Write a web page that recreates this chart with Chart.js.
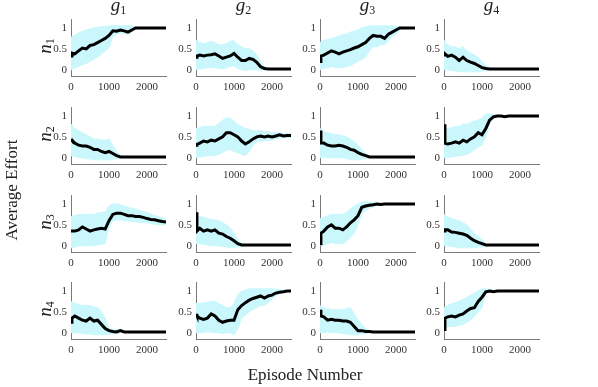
<!DOCTYPE html>
<html>
<head>
<meta charset="utf-8">
<script src="https://cdn.jsdelivr.net/npm/chart.js@4.4.0/dist/chart.umd.min.js"></script>
<style>
  body { margin:0; background:#fff; }
  #wrap { position:relative; width:598px; height:387px; overflow:hidden; font-family:"Liberation Serif", serif; color:#222; }
  #wrap canvas { position:absolute; }
  .lbl { position:absolute; text-align:center; white-space:nowrap; }
  .lbl sub { font-style:normal; font-size:12px; vertical-align:-3px; line-height:0; }
</style>
</head>
<body>
<div id="wrap"></div>
<script>
// episode positions of the sampled points
const episodes = [0, 25, 100, 200, 300, 400, 500, 600, 700, 800, 900, 1000, 1100, 1200, 1300, 1400, 1500, 1600, 1700, 1800, 1900, 2000, 2100, 2200, 2300, 2400, 2500];
const xTicks = [0, 1000, 2000];
const yTicks = [0, 0.5, 1];
const colTitles = ['1', '2', '3', '4'];
const rowTitles = ['1', '2', '3', '4'];

// row n1
const mean_n1_g1 = [0.33,0.40,0.38,0.45,0.52,0.50,0.58,0.60,0.65,0.70,0.75,0.82,0.93,0.92,0.95,0.93,0.90,0.95,1.0,1.0,1.0,1.0,1.0,1.0,1.0,1.0,1.0];
const up_n1_g1   = [0.78,0.80,0.82,0.88,0.92,0.95,0.98,1.0,1.02,1.03,1.04,1.05,1.06,1.06,1.05,1.06,1.05,1.05,1.02,1.01,1.01,1.01,1.01,1.01,1.01,1.01,1.01];
const lo_n1_g1   = [0.0,0.02,0.05,0.08,0.12,0.15,0.20,0.25,0.30,0.38,0.45,0.53,0.80,0.85,0.88,0.87,0.85,0.90,0.98,0.99,0.99,0.99,0.99,0.99,0.99,0.99,0.99];

const mean_n1_g2 = [0.30,0.33,0.35,0.33,0.35,0.36,0.38,0.33,0.27,0.30,0.33,0.39,0.30,0.22,0.22,0.27,0.25,0.18,0.07,0.03,0.02,0.02,0.02,0.02,0.02,0.02,0.02];
const up_n1_g2   = [0.70,0.68,0.65,0.62,0.65,0.68,0.65,0.60,0.60,0.62,0.68,0.70,0.60,0.55,0.50,0.50,0.45,0.35,0.20,0.07,0.03,0.03,0.03,0.03,0.03,0.03,0.03];
const lo_n1_g2   = [0.0,0.0,0.02,0.03,0.05,0.05,0.05,0.03,0.02,0.05,0.08,0.10,0.03,0.0,-0.02,0.0,0.0,0.0,-0.02,0.0,0.01,0.01,0.01,0.01,0.01,0.01,0.01];

const mean_n1_g3 = [0.20,0.33,0.35,0.40,0.45,0.42,0.38,0.42,0.45,0.48,0.52,0.55,0.60,0.65,0.75,0.82,0.80,0.80,0.75,0.85,0.90,0.95,1.0,1.0,1.0,1.0,1.0];
const up_n1_g3   = [0.65,0.68,0.70,0.72,0.75,0.78,0.80,0.85,0.85,0.90,0.92,0.95,1.0,1.03,1.05,1.05,1.05,1.05,1.05,1.05,1.05,1.04,1.02,1.01,1.01,1.01,1.01];
const lo_n1_g3   = [0.0,0.02,0.03,0.05,0.08,0.05,0.05,0.05,0.08,0.10,0.15,0.20,0.25,0.30,0.45,0.55,0.55,0.60,0.60,0.70,0.80,0.85,0.95,0.98,0.99,0.99,0.99];

const mean_n1_g4 = [0.35,0.38,0.32,0.35,0.30,0.22,0.30,0.22,0.18,0.15,0.10,0.05,0.03,0.02,0.02,0.02,0.02,0.02,0.02,0.02,0.02,0.02,0.02,0.02,0.02,0.02,0.02];
const up_n1_g4   = [0.70,0.65,0.60,0.55,0.55,0.50,0.55,0.45,0.40,0.35,0.30,0.20,0.10,0.05,0.03,0.03,0.03,0.03,0.03,0.03,0.03,0.03,0.03,0.03,0.03,0.03,0.03];
const lo_n1_g4   = [0.0,0.0,0.0,-0.02,-0.03,-0.05,-0.03,-0.05,-0.05,-0.05,-0.05,-0.03,-0.02,0.0,0.01,0.01,0.01,0.01,0.01,0.01,0.01,0.01,0.01,0.01,0.01,0.01,0.01];

// row n2
const mean_n2_g1 = [0.45,0.42,0.35,0.30,0.28,0.28,0.25,0.20,0.20,0.15,0.12,0.15,0.10,0.05,0.02,0.02,0.02,0.02,0.02,0.02,0.02,0.02,0.02,0.02,0.02,0.02,0.02];
const up_n2_g1   = [0.80,0.75,0.70,0.65,0.60,0.55,0.50,0.45,0.45,0.42,0.42,0.45,0.30,0.15,0.05,0.03,0.03,0.03,0.03,0.03,0.03,0.03,0.03,0.03,0.03,0.03,0.03];
const lo_n2_g1   = [0.05,0.05,0.03,0.0,0.0,-0.02,-0.03,-0.05,-0.05,-0.05,-0.05,-0.05,-0.03,-0.02,0.0,0.01,0.01,0.01,0.01,0.01,0.01,0.01,0.01,0.01,0.01,0.01,0.01];

const mean_n2_g2 = [0.30,0.32,0.35,0.40,0.38,0.42,0.40,0.45,0.50,0.60,0.60,0.55,0.50,0.40,0.33,0.38,0.45,0.50,0.52,0.50,0.52,0.50,0.52,0.55,0.52,0.53,0.53];
const up_n2_g2   = [0.70,0.70,0.72,0.75,0.75,0.75,0.75,0.82,0.90,0.95,0.95,0.88,0.80,0.75,0.70,0.68,0.65,0.65,0.65,0.62,0.62,0.60,0.60,0.60,0.58,0.58,0.58];
const lo_n2_g2   = [0.0,0.0,0.02,0.03,0.05,0.05,0.05,0.08,0.12,0.18,0.20,0.15,0.12,0.08,0.05,0.15,0.30,0.38,0.40,0.40,0.42,0.42,0.45,0.47,0.48,0.48,0.48];

const mean_n2_g3 = [0.65,0.35,0.35,0.30,0.28,0.28,0.30,0.28,0.25,0.20,0.18,0.12,0.08,0.05,0.02,0.02,0.02,0.02,0.02,0.02,0.02,0.02,0.02,0.02,0.02,0.02,0.02];
const up_n2_g3   = [0.70,0.65,0.62,0.60,0.58,0.55,0.55,0.52,0.50,0.45,0.38,0.30,0.20,0.10,0.03,0.03,0.03,0.03,0.03,0.03,0.03,0.03,0.03,0.03,0.03,0.03,0.03];
const lo_n2_g3   = [0.0,0.0,0.02,0.0,0.0,0.0,0.0,0.0,-0.02,-0.05,-0.05,-0.05,-0.03,-0.02,0.0,0.01,0.01,0.01,0.01,0.01,0.01,0.01,0.01,0.01,0.01,0.01,0.01];

const mean_n2_g4 = [0.80,0.35,0.33,0.35,0.38,0.35,0.42,0.38,0.45,0.50,0.60,0.55,0.70,0.90,0.98,1.0,1.0,0.98,1.0,1.0,1.0,1.0,1.0,1.0,1.0,1.0,1.0];
const up_n2_g4   = [0.75,0.72,0.70,0.72,0.75,0.75,0.80,0.80,0.85,0.88,0.90,0.95,1.05,1.05,1.03,1.02,1.01,1.01,1.01,1.01,1.01,1.01,1.01,1.01,1.01,1.01,1.01];
const lo_n2_g4   = [0.0,0.0,0.0,0.02,0.03,0.05,0.05,0.08,0.12,0.20,0.25,0.30,0.50,0.80,0.95,0.98,0.99,0.99,0.99,0.99,0.99,0.99,0.99,0.99,0.99,0.99,0.99];

// row n3
const mean_n3_g1 = [0.35,0.35,0.35,0.38,0.45,0.40,0.35,0.38,0.40,0.42,0.40,0.60,0.75,0.78,0.78,0.75,0.72,0.72,0.70,0.70,0.68,0.65,0.63,0.62,0.60,0.58,0.57];
const up_n3_g1   = [0.70,0.70,0.72,0.75,0.75,0.75,0.75,0.75,0.78,0.80,0.80,0.95,1.0,1.0,0.98,0.95,0.92,0.90,0.88,0.85,0.82,0.80,0.76,0.72,0.70,0.67,0.65];
const lo_n3_g1   = [-0.05,-0.05,-0.03,0.0,0.0,0.0,0.0,0.0,0.02,0.03,0.05,0.45,0.60,0.62,0.62,0.60,0.60,0.58,0.57,0.56,0.55,0.55,0.53,0.52,0.50,0.50,0.50];

const mean_n3_g2 = [0.80,0.35,0.42,0.35,0.38,0.35,0.38,0.30,0.28,0.22,0.18,0.12,0.05,0.02,0.02,0.02,0.02,0.02,0.02,0.02,0.02,0.02,0.02,0.02,0.02,0.02,0.02];
const up_n3_g2   = [0.75,0.72,0.70,0.68,0.65,0.63,0.62,0.60,0.55,0.50,0.42,0.30,0.15,0.05,0.03,0.03,0.03,0.03,0.03,0.03,0.03,0.03,0.03,0.03,0.03,0.03,0.03];
const lo_n3_g2   = [0.05,0.05,0.05,0.03,0.02,0.0,0.0,0.0,-0.02,-0.03,-0.05,-0.05,-0.03,-0.02,0.0,0.01,0.01,0.01,0.01,0.01,0.01,0.01,0.01,0.01,0.01,0.01,0.01];

const mean_n3_g3 = [0.05,0.30,0.35,0.45,0.50,0.42,0.42,0.38,0.45,0.55,0.62,0.72,0.92,0.95,0.97,0.98,1.0,0.99,1.0,1.0,1.0,1.0,1.0,1.0,1.0,1.0,1.0];
const up_n3_g3   = [0.65,0.65,0.68,0.72,0.75,0.75,0.75,0.75,0.80,0.88,0.95,1.0,1.05,1.05,1.04,1.03,1.02,1.02,1.01,1.01,1.01,1.01,1.01,1.01,1.01,1.01,1.01];
const lo_n3_g3   = [0.0,0.0,0.02,0.05,0.08,0.05,0.05,0.05,0.10,0.20,0.30,0.50,0.75,0.85,0.90,0.93,0.97,0.98,0.99,0.99,0.99,0.99,0.99,0.99,0.99,0.99,0.99];

const mean_n3_g4 = [0.35,0.38,0.38,0.33,0.32,0.30,0.28,0.25,0.18,0.12,0.08,0.05,0.02,0.02,0.02,0.02,0.02,0.02,0.02,0.02,0.02,0.02,0.02,0.02,0.02,0.02,0.02];
const up_n3_g4   = [0.75,0.72,0.68,0.65,0.62,0.60,0.55,0.50,0.40,0.30,0.22,0.15,0.03,0.02,0.02,0.02,0.02,0.02,0.02,0.02,0.02,0.02,0.02,0.02,0.02,0.02,0.02];
const lo_n3_g4   = [0.0,0.0,0.0,-0.02,-0.03,-0.05,-0.05,-0.05,-0.05,-0.05,-0.03,-0.02,0.0,0.01,0.01,0.01,0.01,0.01,0.01,0.01,0.01,0.01,0.01,0.01,0.01,0.01,0.01];

// row n4
const mean_n4_g1 = [0.25,0.35,0.40,0.35,0.30,0.28,0.35,0.28,0.30,0.20,0.10,0.05,0.03,0.02,0.05,0.02,0.02,0.02,0.02,0.02,0.02,0.02,0.02,0.02,0.02,0.02,0.02];
const up_n4_g1   = [0.75,0.72,0.70,0.68,0.65,0.65,0.65,0.62,0.60,0.50,0.35,0.10,0.08,0.08,0.08,0.03,0.02,0.02,0.02,0.02,0.02,0.02,0.02,0.02,0.02,0.02,0.02];
const lo_n4_g1   = [0.0,0.0,0.0,0.0,-0.02,-0.03,-0.03,-0.05,-0.05,-0.05,-0.05,-0.03,-0.02,-0.02,0.0,0.01,0.01,0.01,0.01,0.01,0.01,0.01,0.01,0.01,0.01,0.01,0.01];

const mean_n4_g2 = [0.45,0.40,0.35,0.32,0.35,0.45,0.40,0.30,0.25,0.28,0.30,0.30,0.55,0.65,0.72,0.78,0.82,0.85,0.88,0.83,0.88,0.90,0.95,0.97,0.98,1.0,1.0];
const up_n4_g2   = [0.70,0.70,0.70,0.72,0.72,0.75,0.75,0.70,0.65,0.60,0.60,0.70,0.90,1.0,1.02,1.05,1.05,1.05,1.05,1.05,1.05,1.05,1.04,1.03,1.02,1.01,1.01];
const lo_n4_g2   = [0.0,0.0,0.0,0.0,0.02,0.02,0.0,0.0,-0.02,0.0,0.0,-0.05,0.10,0.35,0.42,0.50,0.55,0.60,0.65,0.65,0.72,0.80,0.88,0.93,0.96,0.98,0.99];

const mean_n4_g3 = [0.55,0.40,0.38,0.30,0.32,0.30,0.30,0.28,0.28,0.25,0.15,0.05,0.05,0.03,0.03,0.02,0.02,0.02,0.02,0.02,0.02,0.02,0.02,0.02,0.02,0.02,0.02];
const up_n4_g3   = [0.65,0.62,0.60,0.58,0.55,0.55,0.55,0.55,0.58,0.60,0.45,0.30,0.20,0.10,0.05,0.03,0.02,0.02,0.02,0.02,0.02,0.02,0.02,0.02,0.02,0.02,0.02];
const lo_n4_g3   = [0.0,0.0,0.0,0.02,0.0,0.0,0.0,-0.02,-0.03,-0.05,-0.05,-0.05,-0.03,-0.02,0.0,0.01,0.01,0.01,0.01,0.01,0.01,0.01,0.01,0.01,0.01,0.01,0.01];

const mean_n4_g4 = [0.08,0.35,0.38,0.40,0.38,0.42,0.45,0.52,0.58,0.60,0.75,0.85,0.98,1.0,0.98,1.0,1.0,1.0,1.0,1.0,1.0,1.0,1.0,1.0,1.0,1.0,1.0];
const up_n4_g4   = [0.60,0.62,0.65,0.70,0.72,0.75,0.80,0.85,0.90,0.95,1.0,1.05,1.05,1.03,1.02,1.01,1.01,1.01,1.01,1.01,1.01,1.01,1.01,1.01,1.01,1.01,1.01];
const lo_n4_g4   = [0.05,0.10,0.15,0.15,0.15,0.18,0.20,0.25,0.30,0.40,0.50,0.60,0.95,0.97,0.97,0.99,0.99,0.99,0.99,0.99,0.99,0.99,0.99,0.99,0.99,0.99,0.99];

const panels = [
  [[mean_n1_g1, up_n1_g1, lo_n1_g1], [mean_n1_g2, up_n1_g2, lo_n1_g2], [mean_n1_g3, up_n1_g3, lo_n1_g3], [mean_n1_g4, up_n1_g4, lo_n1_g4]],
  [[mean_n2_g1, up_n2_g1, lo_n2_g1], [mean_n2_g2, up_n2_g2, lo_n2_g2], [mean_n2_g3, up_n2_g3, lo_n2_g3], [mean_n2_g4, up_n2_g4, lo_n2_g4]],
  [[mean_n3_g1, up_n3_g1, lo_n3_g1], [mean_n3_g2, up_n3_g2, lo_n3_g2], [mean_n3_g3, up_n3_g3, lo_n3_g3], [mean_n3_g4, up_n3_g4, lo_n3_g4]],
  [[mean_n4_g1, up_n4_g1, lo_n4_g1], [mean_n4_g2, up_n4_g2, lo_n4_g2], [mean_n4_g3, up_n4_g3, lo_n4_g3], [mean_n4_g4, up_n4_g4, lo_n4_g4]]
];

// layout of the grid (pixel position of plot left edge and of y = 0)
const colLeft = [71, 196, 320, 444];
const rowZero = [69, 157, 245, 332];
const plotW = 95, axisW = 40, padTop = 6, padRight = 6, xAxisH = 24, areaH = 61;

const bandColor = '#c9f7fc';
const tickFont = { family: 'Liberation Serif', size: 11 };
const wrap = document.getElementById('wrap');

function pts(arr) {
  return episodes.map((x, i) => ({ x: x, y: arr[i] }));
}

panels.forEach((row, r) => {
  row.forEach((p, c) => {
    const cv = document.createElement('canvas');
    const w = axisW + plotW + padRight, h = padTop + areaH + xAxisH;
    cv.width = w; cv.height = h;
    cv.style.left = (colLeft[c] - axisW) + 'px';
    cv.style.top = (rowZero[r] - 54 - padTop) + 'px';
    wrap.appendChild(cv);

    new Chart(cv.getContext('2d'), {
      type: 'line',
      data: {
        datasets: [
          { data: pts(p[0]), borderColor: '#000', borderWidth: 3, pointRadius: 0, fill: false, order: 0 },
          { data: pts(p[1]), borderColor: bandColor, borderWidth: 1, pointRadius: 0, fill: '+1', backgroundColor: bandColor, order: 1 },
          { data: pts(p[2]), borderColor: bandColor, borderWidth: 1, pointRadius: 0, fill: false, order: 2 }
        ]
      },
      options: {
        responsive: false,
        animation: false,
        events: [],
        layout: { padding: { top: padTop, right: padRight, left: 0, bottom: 0 } },
        plugins: { legend: { display: false }, tooltip: { enabled: false } },
        scales: {
          x: {
            type: 'linear', min: 0, max: 2500,
            afterBuildTicks: s => { s.ticks = xTicks.map(v => ({ value: v })); },
            afterFit: s => { s.height = xAxisH; },
            grid: { display: true, drawOnChartArea: false, drawTicks: false },
            border: { color: '#7a7a7a', width: 1 },
            ticks: { padding: 5, font: tickFont, color: '#333', maxRotation: 0, autoSkip: false, callback: v => String(v) }
          },
          y: {
            min: -0.15, max: 1.2,
            afterBuildTicks: s => { s.ticks = yTicks.map(v => ({ value: v })); },
            afterFit: s => { s.width = axisW; },
            grid: { display: true, drawOnChartArea: false, drawTicks: false },
            border: { color: '#7a7a7a', width: 1 },
            ticks: { padding: 4, font: tickFont, color: '#333', autoSkip: false, callback: v => String(v) }
          }
        }
      }
    });
  });
});

// column titles g_i, row titles n_i and the shared axis titles
colTitles.forEach((t, c) => {
  const d = document.createElement('div');
  d.className = 'lbl';
  d.style.cssText = `left:${colLeft[c]}px;width:${plotW}px;top:-5px;font-size:19px;line-height:20px;`;
  d.innerHTML = `<i>g</i><sub>${t}</sub>`;
  wrap.appendChild(d);
});
rowTitles.forEach((t, r) => {
  const d = document.createElement('div');
  d.className = 'lbl';
  const cy = rowZero[r] - 23;
  d.style.cssText = `left:25px;width:40px;top:${cy - 10}px;height:20px;font-size:19px;line-height:20px;transform:rotate(-90deg);`;
  d.innerHTML = `<i>n</i><sub>${t}</sub>`;
  wrap.appendChild(d);
});
const yTitle = document.createElement('div');
yTitle.className = 'lbl';
yTitle.style.cssText = 'left:-58px;width:140px;top:180px;height:20px;font-size:17px;line-height:20px;transform:rotate(-90deg);';
yTitle.textContent = 'Average Effort';
wrap.appendChild(yTitle);
const xTitle = document.createElement('div');
xTitle.className = 'lbl';
xTitle.style.cssText = 'left:230px;width:150px;top:365px;height:20px;font-size:17px;line-height:20px;';
xTitle.textContent = 'Episode Number';
wrap.appendChild(xTitle);
</script>
</body>
</html>
